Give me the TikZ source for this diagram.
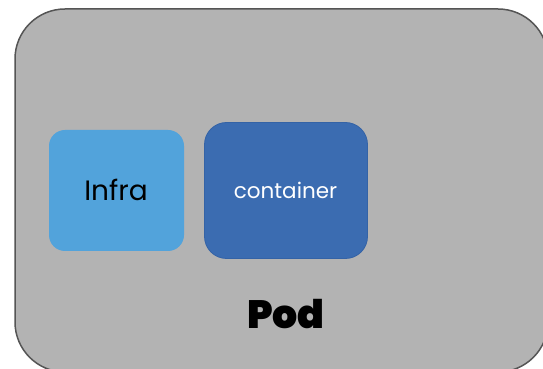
\documentclass[tikz,border=0pt]{standalone}
\usepackage{fontspec}
\setmainfont{Poppins}
\newfontfamily\podfont{Poppins Black}
\definecolor{podfill}{HTML}{B3B3B3}
\definecolor{podline}{HTML}{555555}
\definecolor{infrafill}{HTML}{52A3DB}
\definecolor{contfill}{HTML}{3B6CB1}
\definecolor{contline}{HTML}{3463A6}
\begin{document}
\begin{tikzpicture}[x=1pt,y=1pt,
  podbox/.style={draw=podline,fill=podfill,line width=1.5pt,rounded corners=50pt},
  infrabox/.style={fill=infrafill,rounded corners=16pt,minimum width=135pt,minimum height=121pt,inner sep=0pt},
  contbox/.style={draw=contline,fill=contfill,line width=0.8pt,rounded corners=22pt,minimum width=163pt,minimum height=136pt,inner sep=0pt},
  lbl/.style={anchor=base,inner sep=0pt}]
\useasboundingbox (0,0) rectangle (543,369);
\fill[white] (0,0) rectangle (543,369);
\clip (0,0) rectangle (543,369);
\draw[podbox] (15,-3) rectangle (548,360);
\node[infrabox] (infra) at (116.5,178.5) {};
\node[contbox] (cont) at (286,178.5) {};
\node[lbl,font=\fontsize{28}{32}\selectfont] (infratext) at (116,168.7) {Infra};
\node[lbl,font=\fontsize{21.5}{25}\selectfont,text=white] (conttext) at (285.5,170.7) {container};
\node[lbl,font=\podfont\fontsize{39.5}{44}\selectfont] (podtext) at (286,40.7) {Pod};
\end{tikzpicture}
\end{document}
